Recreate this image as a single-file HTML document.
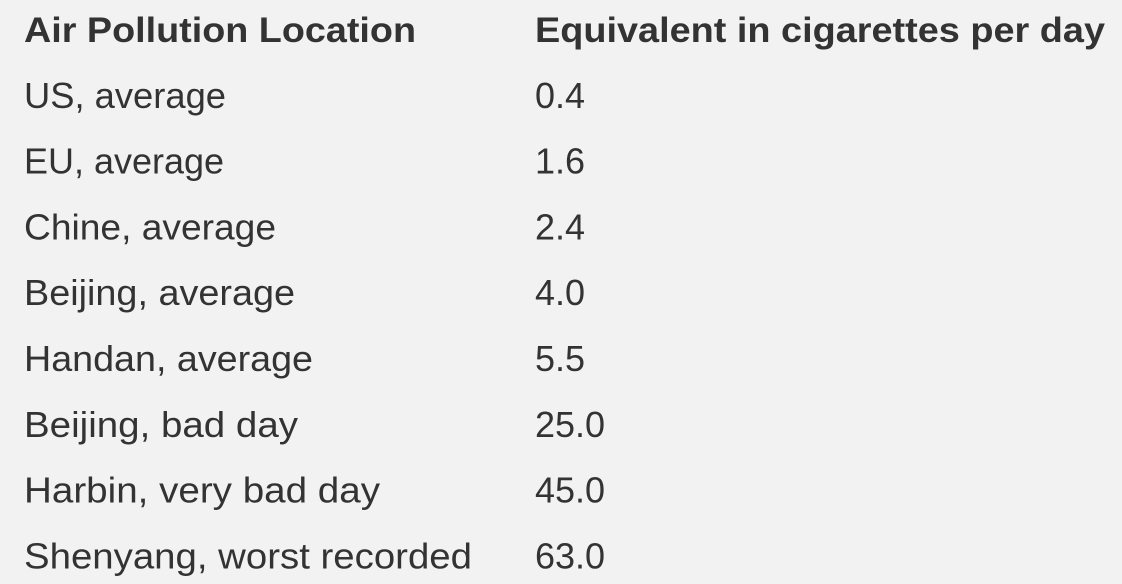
<!DOCTYPE html>
<html>
<head>
<meta charset="utf-8">
<style>
  html, body { margin:0; padding:0; }
  body { width:1122px; height:584px; background:#f2f2f2; overflow:hidden; position:relative;
         font-family:"Liberation Sans", "DejaVu Sans", sans-serif; color:#333333; }
  .cell { position:absolute; height:66px; line-height:66px; font-size:36px; white-space:nowrap; }
  .c1 { left:24px; }
  .c2 { left:535px; }
  .hdr { font-weight:bold; font-size:35px; }
</style>
</head>
<body>
<svg width="1122" height="584" style="position:absolute;left:0;top:0">
  <g font-family="Liberation Sans, DejaVu Sans, sans-serif" fill="#333333">
    <text x="24" y="42" font-size="35" font-weight="bold" textLength="392" lengthAdjust="spacingAndGlyphs">Air Pollution Location</text>
    <text x="535" y="42" font-size="35" font-weight="bold" textLength="570" lengthAdjust="spacingAndGlyphs">Equivalent in cigarettes per day</text>
  </g>
  <g id="rows" font-family="Liberation Sans, DejaVu Sans, sans-serif" font-size="36" fill="#333333"></g>
</svg>
<script>
const locations = ["US, average","EU, average","Chine, average","Beijing, average","Handan, average","Beijing, bad day","Harbin, very bad day","Shenyang, worst recorded"];
const values = ["0.4","1.6","2.4","4.0","5.5","25.0","45.0","63.0"];
const widths = [202,200,252,271,289,274,356,448];
const g = document.getElementById('rows');
const NS = "http://www.w3.org/2000/svg";
for (let i = 0; i < locations.length; i++) {
  const y = 30 + 65.8*(i+1) + 12;
  const t1 = document.createElementNS(NS,'text');
  t1.setAttribute('x', 24); t1.setAttribute('y', y);
  t1.setAttribute('textLength', widths[i]); t1.setAttribute('lengthAdjust','spacingAndGlyphs');
  t1.textContent = locations[i];
  
  
  g.appendChild(t1);
  const t2 = document.createElementNS(NS,'text');
  t2.setAttribute('x', 535); t2.setAttribute('y', y);
  t2.textContent = values[i];
  
  
  g.appendChild(t2);
}
</script>
</body>
</html>
